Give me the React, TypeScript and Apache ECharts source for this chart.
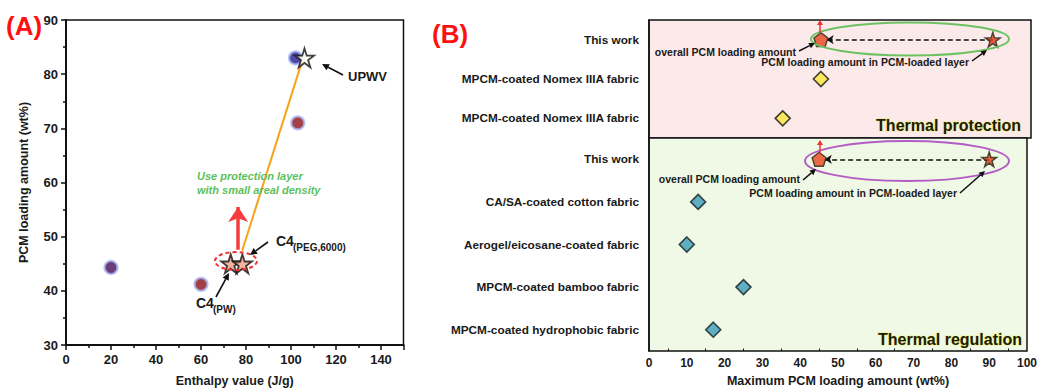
import React, { useEffect, useRef } from "react";
import * as echarts from "echarts";

// ---------- Panel A data ----------
const enthalpyPoints: number[][] = [
  [20, 44.3],
  [60, 41.2],
  [102, 83],
  [103, 71],
];
const pointColors = ["#4a0c58", "#8c1018", "#241a8e", "#8c1218"];
const c4Stars: number[][] = [
  [73.2, 45],
  [78.4, 45],
];
const upwvStar: number[][] = [[106, 83]];
const orangeLink: number[][] = [
  [78.3, 47.4],
  [105, 82.5],
];
const redArrowA: number[][] = [
  [76.5, 47.6],
  [76.5, 55.5],
];

// ---------- Panel B data ----------
const protectionCats = ["This work", "MPCM-coated Nomex IIIA fabric", "MPCM-coated Nomex IIIA fabric"];
const protectionValues: (number | null)[] = [null, 45, 35];
const regulationCats = [
  "This work",
  "CA/SA-coated cotton fabric",
  "Aerogel/eicosane-coated fabric",
  "MPCM-coated bamboo fabric",
  "MPCM-coated hydrophobic fabric",
];
const regulationValues: (number | null)[] = [null, 13, 10, 25, 17];
const thisWorkOverall = 45;
const thisWorkLayer = 90;

const FONT = "'Liberation Sans', Arial, Helvetica, sans-serif";
const STAR =
  "path://M50,0 L61.2,34.5 L97.6,34.5 L68.2,55.9 L79.4,90.5 L50,69.1 L20.6,90.5 L31.8,55.9 L2.4,34.5 L38.8,34.5 Z";
const PENTA = "path://M50,0 L97.6,34.5 L79.4,90.5 L20.6,90.5 L2.4,34.5 Z";

function arrow(x1: number, y1: number, x2: number, y2: number, color: string, w: number, hl: number, hw: number) {
  const a = Math.atan2(y2 - y1, x2 - x1);
  const bx = x2 - hl * Math.cos(a);
  const by = y2 - hl * Math.sin(a);
  const px = -Math.sin(a) * hw;
  const py = Math.cos(a) * hw;
  return [
    { type: "line", z: 50, shape: { x1, y1, x2: bx, y2: by }, style: { stroke: color, lineWidth: w } },
    {
      type: "polygon",
      z: 50,
      shape: { points: [[x2, y2], [bx + px, by + py], [bx - px, by - py]] },
      style: { fill: color },
    },
  ];
}

function txt(x: number, y: number, text: string, size: number, opts: any = {}) {
  return {
    type: "text",
    z: 60,
    x,
    y,
    style: {
      text,
      fill: opts.fill || "#1a1a1a",
      fontSize: size,
      fontWeight: "bold",
      fontStyle: opts.italic ? "italic" : "normal",
      fontFamily: FONT,
      align: opts.align || "left",
      verticalAlign: "middle",
      stroke: opts.stroke,
      lineWidth: opts.lineWidth || 0,
    },
  };
}

export default function App() {
  const ref = useRef<HTMLDivElement>(null);
  useEffect(() => {
    if (!ref.current) return;
    const chart = echarts.init(ref.current, undefined, { renderer: "svg" });

    const axisLabelBase = { fontFamily: FONT, fontWeight: "bold", color: "#1a1a1a" };

    const protDiamonds = protectionValues
      .map((v, i) => (v == null ? null : [v, i]))
      .filter((d) => d != null);
    const regDiamonds = regulationValues
      .map((v, i) => (v == null ? null : [v, i]))
      .filter((d) => d != null);

    const graphic: any[] = [
      txt(6, 26, "(A)", 26, { fill: "#ff1010" }),
      txt(432, 34, "(B)", 26, { fill: "#ff1010" }),
      // Panel A annotations
      txt(348, 76, "UPWV", 13),
      ...arrow(343, 75, 322, 64, "#111", 1.6, 7, 3.5),
      txt(276, 241, "C4", 14),
      txt(293, 247, "(PEG,6000)", 10),
      ...arrow(268, 242, 250, 255, "#111", 1.6, 7, 3.5),
      txt(196, 303, "C4", 14),
      txt(213, 309, "(PW)", 10),
      ...arrow(216, 297, 229, 273, "#111", 1.6, 7, 3.5),
      txt(197, 176, "Use protection layer", 11, { fill: "#5cbf5c", italic: true }),
      txt(197, 189.5, "with small areal density", 11, { fill: "#5cbf5c", italic: true }),
      {
        type: "ellipse",
        z: 40,
        shape: { cx: 236, cy: 261, rx: 21, ry: 9 },
        style: { fill: "none", stroke: "#f03030", lineWidth: 2, lineDash: [4, 3] },
      },
      // Panel B annotations
      {
        type: "ellipse",
        z: 40,
        shape: { cx: 910, cy: 39, rx: 99, ry: 16.5 },
        style: { fill: "none", stroke: "#6cc262", lineWidth: 2 },
      },
      {
        type: "ellipse",
        z: 40,
        shape: { cx: 907, cy: 161, rx: 102, ry: 20 },
        style: { fill: "none", stroke: "#b35cc4", lineWidth: 2 },
      },
      ...arrow(820, 33, 820, 20, "#f03030", 1.5, 5, 3),
      ...arrow(820, 154, 820, 140, "#f03030", 1.5, 5, 3),
      txt(796, 52, "overall PCM loading amount", 10.5, { align: "right" }),
      ...arrow(799, 51, 815, 43, "#111", 1.5, 6, 3),
      txt(969, 62, "PCM loading amount in PCM-loaded layer", 10.5, { align: "right" }),
      ...arrow(972, 61, 987, 50, "#111", 1.5, 6, 3),
      txt(800, 179, "overall PCM loading amount", 10.5, { align: "right" }),
      ...arrow(803, 180, 816, 169, "#111", 1.5, 6, 3),
      txt(957, 193, "PCM loading amount in PCM-loaded layer", 10.5, { align: "right" }),
      ...arrow(960, 193, 985, 171, "#111", 1.5, 6, 3),
      txt(1021, 125, "Thermal protection", 16, { align: "right", fill: "#1c1c08", stroke: "#eeee70", lineWidth: 1 }),
      txt(1022, 339, "Thermal regulation", 16, { align: "right", fill: "#1c1c08", stroke: "#eeee70", lineWidth: 1 }),
    ];

    chart.setOption({
      animation: false,
      grid: [
        { left: 66, top: 20, width: 337.5, height: 327, show: true, borderColor: "#111", borderWidth: 1.5, backgroundColor: "#fff" },
        { left: 649, top: 20, width: 382, height: 118, show: true, borderColor: "#111", borderWidth: 1.5, backgroundColor: "#fce9e9" },
        { left: 649, top: 138, width: 382, height: 216, show: true, borderColor: "#111", borderWidth: 1.5, backgroundColor: "#eff9e6" },
      ],
      xAxis: [
        {
          gridIndex: 0,
          type: "value",
          min: 0,
          max: 150,
          interval: 20,
          name: "Enthalpy value (J/g)",
          nameLocation: "middle",
          nameGap: 29,
          nameTextStyle: { fontFamily: FONT, fontWeight: "bold", fontSize: 12.5, color: "#1a1a1a" },
          axisLine: { lineStyle: { color: "#111", width: 2 } },
          axisTick: { length: 5, lineStyle: { width: 1.5, color: "#111" } },
          minorTick: { show: true, splitNumber: 2, length: 3, lineStyle: { width: 1.5, color: "#111" } },
          axisLabel: { ...axisLabelBase, fontSize: 13, margin: 8, showMaxLabel: false },
          splitLine: { show: false },
        },
        {
          gridIndex: 1,
          type: "value",
          min: 0,
          max: 100,
          interval: 10,
          show: false,
        },
        {
          gridIndex: 2,
          type: "value",
          min: 0,
          max: 100,
          interval: 10,
          name: "Maximum PCM loading amount (wt%)",
          nameLocation: "middle",
          nameGap: 23,
          nameTextStyle: { fontFamily: FONT, fontWeight: "bold", fontSize: 12.5, color: "#1a1a1a" },
          axisLine: { lineStyle: { color: "#111", width: 1.5 } },
          axisTick: { inside: true, length: 4, lineStyle: { width: 1.2, color: "#111" } },
          minorTick: { show: true, splitNumber: 2, length: 2.5, lineStyle: { width: 1, color: "#111" } },
          axisLabel: { ...axisLabelBase, fontSize: 12, margin: 6 },
          splitLine: { show: false },
        },
      ],
      yAxis: [
        {
          gridIndex: 0,
          type: "value",
          min: 30,
          max: 90,
          interval: 10,
          name: "PCM loading amount (wt%)",
          nameLocation: "middle",
          nameGap: 36,
          nameRotate: 90,
          nameTextStyle: { fontFamily: FONT, fontWeight: "bold", fontSize: 12.5, color: "#1a1a1a" },
          axisLine: { lineStyle: { color: "#111", width: 2 } },
          axisTick: { length: 5, lineStyle: { width: 1.5, color: "#111" } },
          minorTick: { show: true, splitNumber: 2, length: 3, lineStyle: { width: 1.5, color: "#111" } },
          axisLabel: { ...axisLabelBase, fontSize: 13, margin: 8 },
          splitLine: { show: false },
        },
        {
          gridIndex: 1,
          type: "category",
          inverse: true,
          data: protectionCats,
          axisLine: { lineStyle: { color: "#111", width: 1.5 } },
          axisTick: { alignWithLabel: true, length: 4, lineStyle: { width: 1.5, color: "#111" } },
          axisLabel: { ...axisLabelBase, fontSize: 11.8, margin: 10 },
          splitLine: { show: false },
        },
        {
          gridIndex: 2,
          type: "category",
          inverse: true,
          data: regulationCats,
          axisLine: { lineStyle: { color: "#111", width: 1.5 } },
          axisTick: { alignWithLabel: true, length: 4, lineStyle: { width: 1.5, color: "#111" } },
          axisLabel: { ...axisLabelBase, fontSize: 11.8, margin: 10 },
          splitLine: { show: false },
        },
      ],
      series: [
        // Panel A
        {
          type: "lines",
          coordinateSystem: "cartesian2d",
          xAxisIndex: 0,
          yAxisIndex: 0,
          z: 3,
          symbol: ["none", "none"],
          lineStyle: { color: "#f7a21b", width: 2, opacity: 1 },
          data: [{ coords: orangeLink }],
        },
        {
          type: "lines",
          coordinateSystem: "cartesian2d",
          xAxisIndex: 0,
          yAxisIndex: 0,
          z: 3,
          symbol: ["none", "arrow"],
          symbolSize: 15,
          lineStyle: { color: "#f53b3b", width: 3.5, opacity: 1 },
          data: [{ coords: redArrowA }],
        },
        {
          type: "scatter",
          xAxisIndex: 0,
          yAxisIndex: 0,
          z: 4,
          symbol: "circle",
          symbolSize: 13,
          data: enthalpyPoints.map((p, i) => ({
            value: p,
            itemStyle: {
              color: pointColors[i],
              borderColor: "#a9b6f2",
              borderWidth: 2.2,
            },
          })),
        },
        {
          type: "scatter",
          xAxisIndex: 0,
          yAxisIndex: 0,
          z: 5,
          symbol: STAR,
          symbolSize: 19,
          itemStyle: { color: "#f4a184", borderColor: "#111", borderWidth: 1.8 },
          data: c4Stars,
        },
        {
          type: "scatter",
          xAxisIndex: 0,
          yAxisIndex: 0,
          z: 5,
          symbol: STAR,
          symbolSize: 19,
          itemStyle: { color: "#fdfbf0", borderColor: "#111", borderWidth: 1.8 },
          data: upwvStar,
        },
        // Panel B - protection
        {
          type: "lines",
          coordinateSystem: "cartesian2d",
          xAxisIndex: 1,
          yAxisIndex: 1,
          z: 3,
          symbol: ["none", "arrow"],
          symbolSize: 7,
          lineStyle: { color: "#111", width: 1.5, type: [5, 3], opacity: 1 },
          data: [{ coords: [[thisWorkLayer, 0], [thisWorkOverall + 1.5, 0]] }],
        },
        {
          type: "scatter",
          xAxisIndex: 1,
          yAxisIndex: 1,
          z: 5,
          symbol: "diamond",
          symbolSize: 15,
          itemStyle: { color: "#f7e63c", borderColor: "#141414", borderWidth: 1.6 },
          data: protDiamonds,
        },
        {
          type: "scatter",
          xAxisIndex: 1,
          yAxisIndex: 1,
          z: 5,
          symbol: PENTA,
          symbolSize: 14,
          itemStyle: { color: "#e8431e", borderColor: "#1e2a10", borderWidth: 1.4 },
          data: [[thisWorkOverall, 0]],
        },
        {
          type: "scatter",
          xAxisIndex: 1,
          yAxisIndex: 1,
          z: 5,
          symbol: STAR,
          symbolSize: 15,
          itemStyle: { color: "#e03a1e", borderColor: "#1e2a10", borderWidth: 1.4 },
          data: [[thisWorkLayer, 0]],
        },
        // Panel B - regulation
        {
          type: "lines",
          coordinateSystem: "cartesian2d",
          xAxisIndex: 2,
          yAxisIndex: 2,
          z: 3,
          symbol: ["none", "arrow"],
          symbolSize: 7,
          lineStyle: { color: "#111", width: 1.5, type: [5, 3], opacity: 1 },
          data: [{ coords: [[thisWorkLayer, 0], [thisWorkOverall + 1.5, 0]] }],
        },
        {
          type: "scatter",
          xAxisIndex: 2,
          yAxisIndex: 2,
          z: 5,
          symbol: "diamond",
          symbolSize: 15,
          itemStyle: { color: "#3c9bb8", borderColor: "#102020", borderWidth: 1.6 },
          data: regDiamonds,
        },
        {
          type: "scatter",
          xAxisIndex: 2,
          yAxisIndex: 2,
          z: 5,
          symbol: PENTA,
          symbolSize: 14,
          itemStyle: { color: "#e8431e", borderColor: "#1e2a10", borderWidth: 1.4 },
          data: [[thisWorkOverall, 0]],
        },
        {
          type: "scatter",
          xAxisIndex: 2,
          yAxisIndex: 2,
          z: 5,
          symbol: STAR,
          symbolSize: 15,
          itemStyle: { color: "#e03a1e", borderColor: "#1e2a10", borderWidth: 1.4 },
          data: [[thisWorkLayer, 0]],
        },
      ],
      graphic,
    });
    return () => chart.dispose();
  }, []);

  return (
    <div
      ref={ref}
      style={{ position: "fixed", left: 0, top: 0, width: 1040, height: 392, background: "#fff" }}
    />
  );
}
